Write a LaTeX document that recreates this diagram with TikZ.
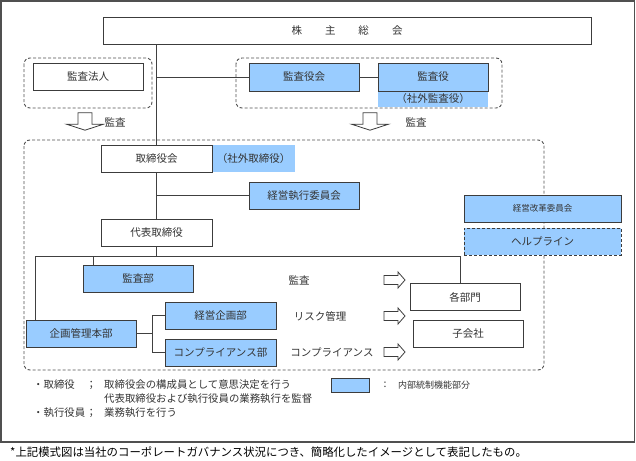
\documentclass[tikz,border=0pt]{standalone}
\usepackage{fontspec}
\setmainfont{Noto Sans CJK JP}
\definecolor{lb}{HTML}{99CCFF}
\definecolor{bd}{HTML}{3C3C3C}
\definecolor{lnc}{HTML}{404040}
\definecolor{dg}{HTML}{505050}
\definecolor{txt}{HTML}{333333}
\begin{document}
\begin{tikzpicture}[x=1pt,y=-1pt,
  every node/.style={font=\fontsize{10.5}{12}\selectfont, text=txt, inner sep=0pt},
  box/.style={draw=bd, line width=0.9pt, fill=white, minimum width=110pt, minimum height=27pt},
  bbox/.style={box, fill=lb},
  fillonly/.style={fill=lb, minimum height=16pt},
  ln/.style={draw=lnc, line width=0.9pt},
  dsh/.style={draw=dg, line width=0.9pt, dash pattern=on 3pt off 2pt, rounded corners=6pt},
  hollow/.style={draw=bd, line width=0.8pt, fill=white},
  darr/.pic={\path[hollow] (-7,0) -- (7,0) -- (7,11.5) -- (18.5,11.5) -- (0,17.5) -- (-18.5,11.5) -- (-7,11.5) -- cycle;},
  rarr/.pic={\path[hollow] (0,-4.5) -- (14,-4.5) -- (14,-8) -- (21,0) -- (14,8) -- (14,4.5) -- (0,4.5) -- cycle;},
  small/.style={font=\fontsize{8.5}{10}\selectfont},
  leg/.style={anchor=west, font=\fontsize{10.4}{12}\selectfont}]
\useasboundingbox (0,0) rectangle (636,460);
\draw[draw=dg, line width=1.1pt] (1,1) rectangle (634.5,442);

% dashed groups
\draw[dsh] (24,58) rectangle (152,108);
\draw[dsh] (236,58) rectangle (502,108);
\draw[dsh] (24,140) rectangle (544,370);

% top level
\node[box, minimum width=488pt] (soukai) at (347,30.5) {株\hspace{23pt}主\hspace{23pt}総\hspace{23pt}会};
\node[box] (hojin) at (88,76.5) {監査法人};
\node[fillonly, minimum width=110pt] (shagaikansa) at (433,99) {（社外監査役）};
\node[bbox, minimum height=28pt] (kansayakukai) at (304,77) {監査役会};
\node[bbox, minimum height=28pt] (kansayaku) at (433,77) {監査役};

% audit arrows
\pic at (85,112.7) {darr};
\node (kansaL) at (115,122) {監査};
\pic at (370,112.7) {darr};
\node (kansaR) at (416,122) {監査};

% board
\node[fillonly, minimum width=83pt, minimum height=27pt] (shagaitori) at (253.5,158.5) {（社外取締役）};
\node[box, minimum width=111pt] (torikai) at (156.5,158.5) {取締役会};
\node[bbox] (keiei) at (304,195.5) {経営執行委員会};
\node[box, minimum width=111pt] (daihyo) at (156.5,232.5) {代表取締役};
\node[bbox, minimum width=157pt, small] (kaikaku) at (542.5,208.5) {経営改革委員会};
\node[bbox, minimum width=157pt, dash pattern=on 3pt off 2pt] (help) at (542.5,241.5) {ヘルプライン};

\node[bbox] (kansabu) at (138,278.5) {監査部};
\node[bbox] (kikaku) at (81,333.5) {企画管理本部};
\node[bbox, minimum width=111pt] (keieikikaku) at (220.5,315.5) {経営企画部};
\node[bbox, minimum width=111pt] (compbu) at (220.5,352.5) {コンプライアンス部};
\node[box] (kakubu) at (465,297) {各部門};
\node[box] (kogaisha) at (468,334) {子会社};

% connectors
\coordinate (busL) at (35,256);
\coordinate (busR) at (460,256);
\coordinate (kdrop) at (93,256);
\coordinate (br) at (152,334);
\draw[ln] (soukai.south -| torikai.north) -- (torikai.north);
\draw[ln] (torikai.north |- kansayakukai.west) -- (kansayakukai.west);
\draw[ln] (kansayakukai.east) -- (kansayaku.west);
\draw[ln] (torikai.south) -- (daihyo.north);
\draw[ln] (torikai.south |- keiei.west) -- (keiei.west);
\draw[ln] (daihyo.south) -- (daihyo.south |- busL);
\draw[ln] (kikaku.north -| busL) -- (busL) -- (busR) -- (busR |- kakubu.north);
\draw[ln] (kdrop) -- (kdrop |- kansabu.north);
\draw[ln] (kikaku.east) -- (kikaku.east -| br);
\draw[ln] (keieikikaku.west) -- (keieikikaku.west -| br) -- (compbu.west -| br) -- (compbu.west);

% function labels and arrows
\node (lkansa) at (299,280) {監査};
\node (lrisk) at (320,316) {リスク管理};
\node (lcomp) at (332,352.5) {コンプライアンス};
\pic at (384,280) {rarr};
\pic at (384,316) {rarr};
\pic at (384,352) {rarr};

% legend
\node[leg] (lg1a) at (33,385) {・取締役};
\node[leg] (lg1s) at (86,385) {；};
\node[leg] (lg1b) at (104,385) {取締役会の構成員として意思決定を行う};
\node[leg] (lg2b) at (104,399) {代表取締役および執行役員の業務執行を監督};
\node[leg] (lg3a) at (33,413) {・執行役員};
\node[leg] (lg3s) at (86,413) {；};
\node[leg] (lg3b) at (104,413) {業務執行を行う};
\node[bbox, minimum width=38pt, minimum height=14pt] (legbox) at (350,385) {};
\node (legcolon) at (385,385) {:};
\node[anchor=west, font=\fontsize{9}{10}\selectfont] (legtxt) at (398,385) {内部統制機能部分};

% footnote
\node[anchor=west, font=\fontsize{11.4}{13}\selectfont, text=black] (foot) at (10,452) {*上記模式図は当社のコーポレートガバナンス状況につき、簡略化したイメージとして表記したもの。};
\end{tikzpicture}
\end{document}
